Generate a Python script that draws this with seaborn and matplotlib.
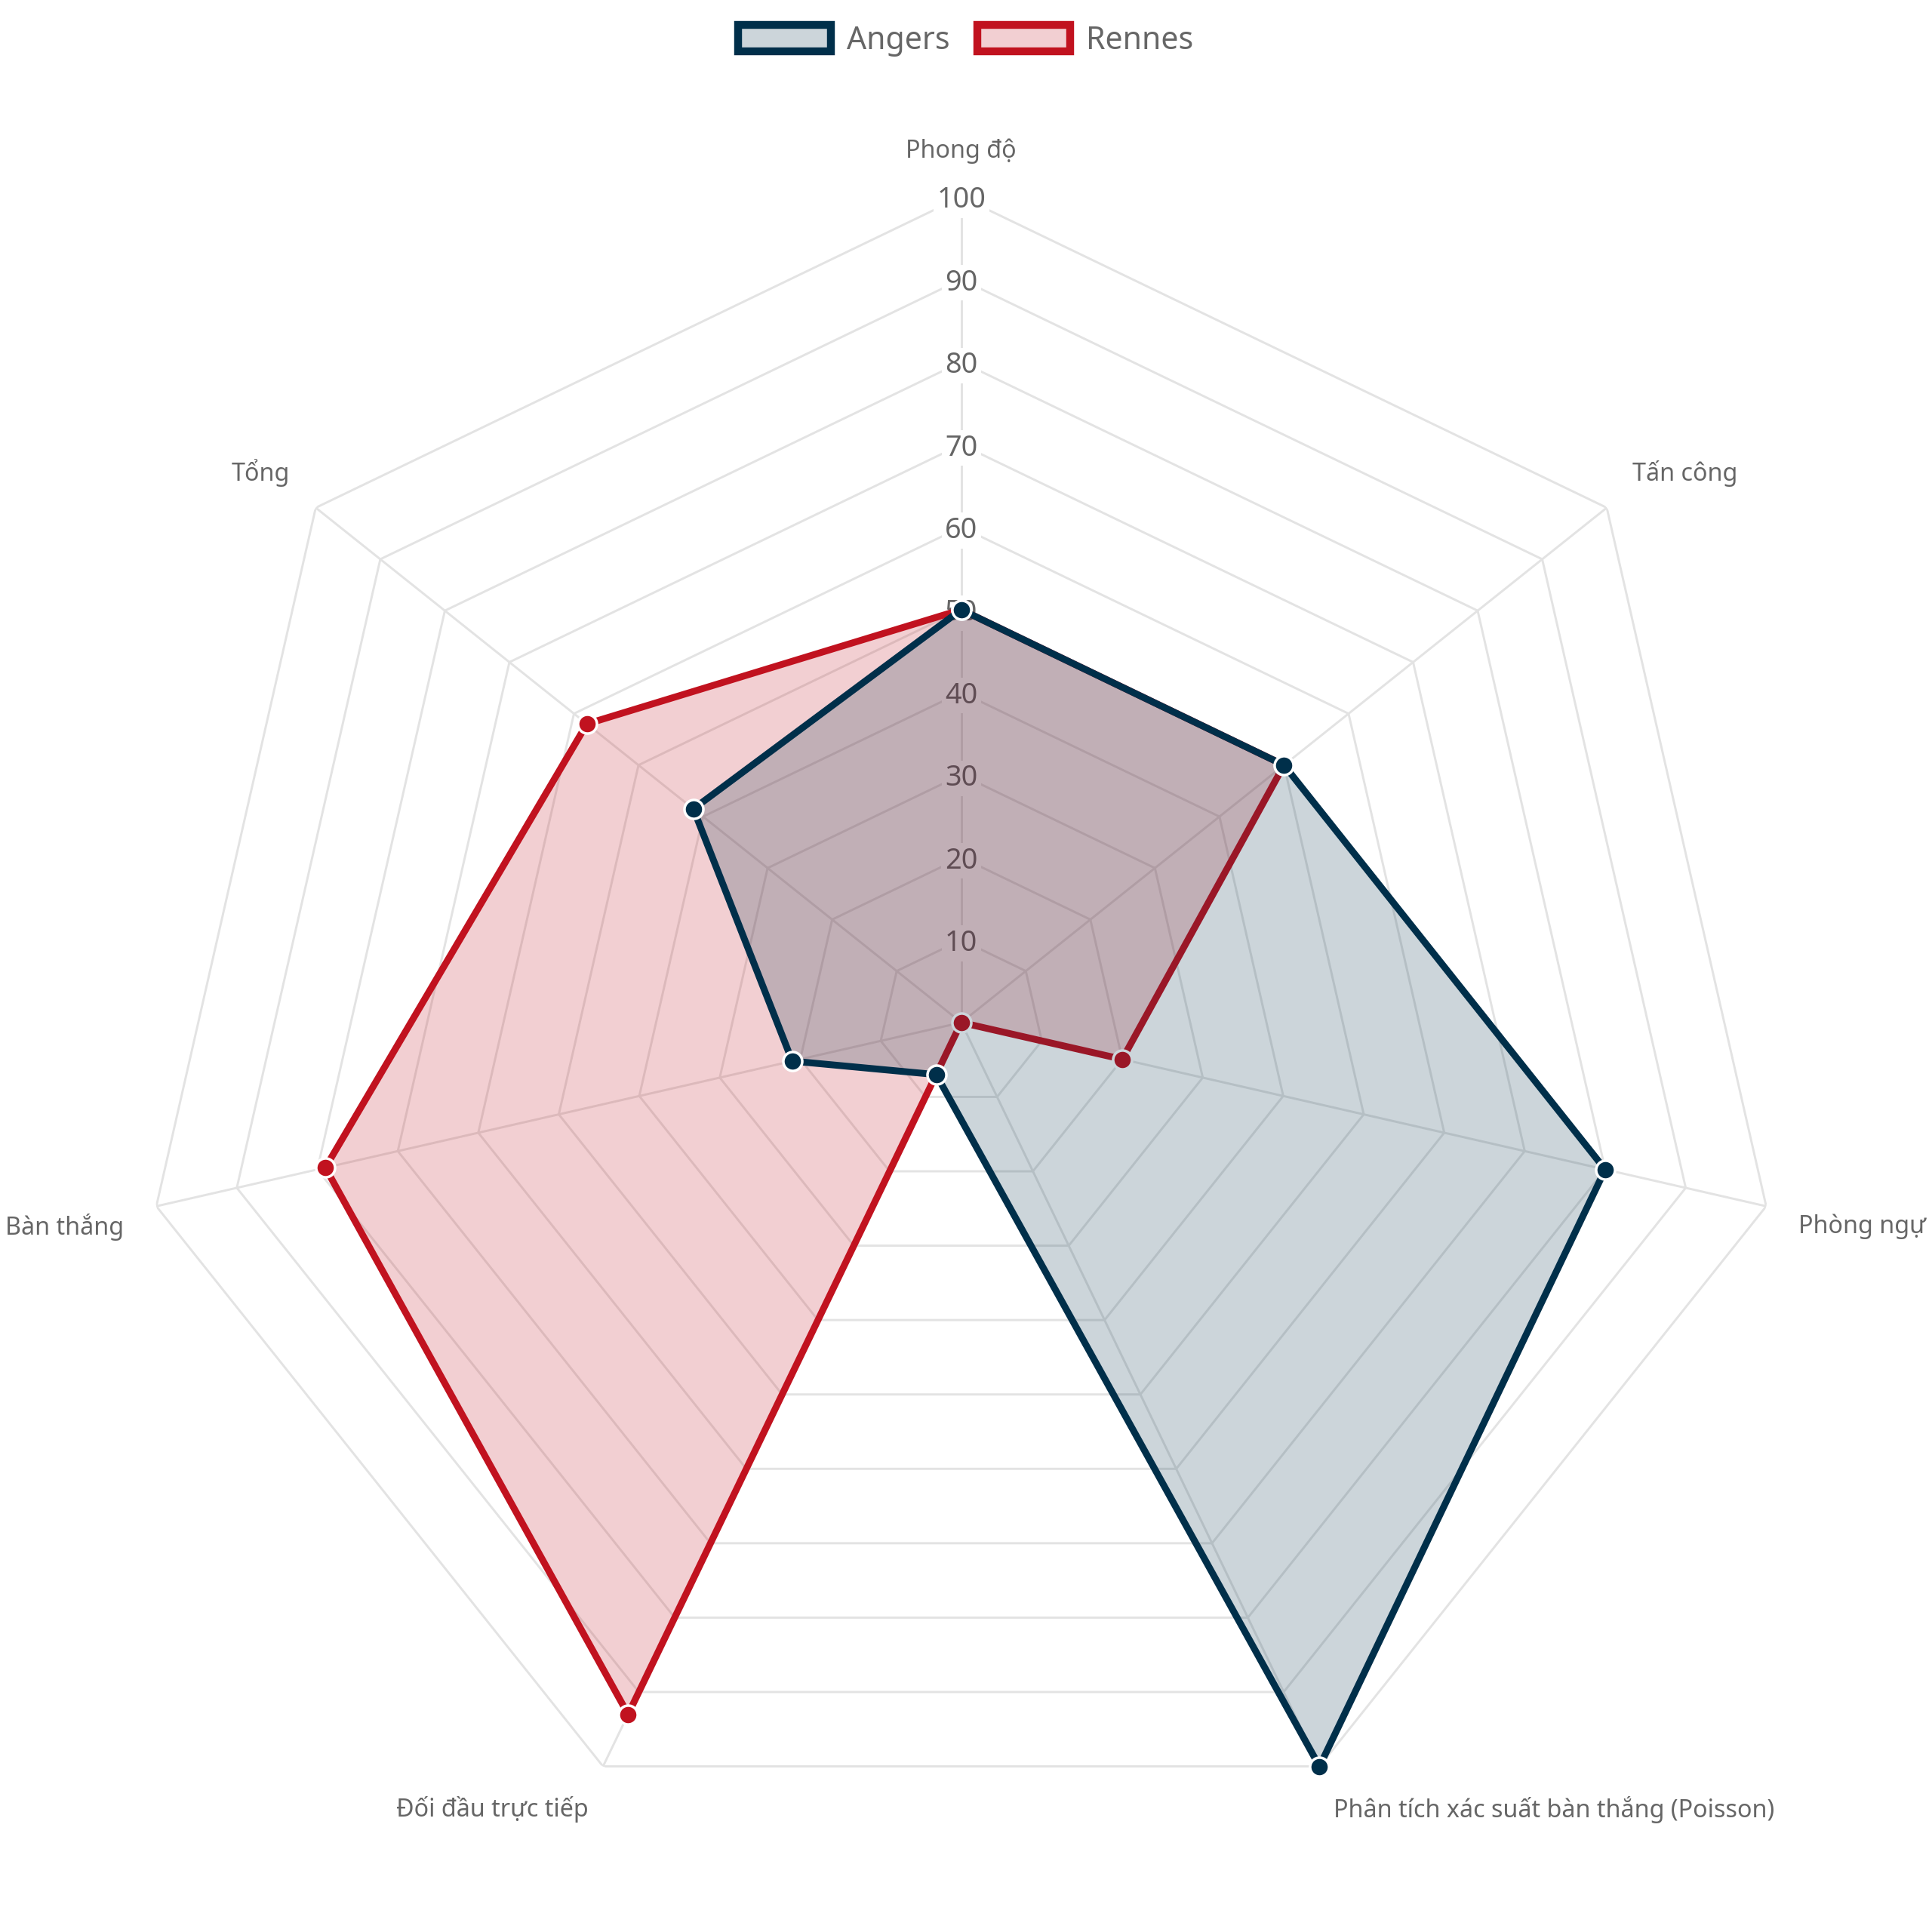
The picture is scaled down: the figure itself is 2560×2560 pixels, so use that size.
import numpy as np
import matplotlib
matplotlib.use("Agg")
import matplotlib.pyplot as plt
from matplotlib.patches import Patch
import seaborn as sns

# ---- data ----
categories = ["Phong độ", "Tấn công", "Phòng ngự",
              "Phân tích xác suất bàn thắng (Poisson)",
              "Đối đầu trực tiếp", "Bàn thắng", "Tổng"]
angers = [50, 50, 80, 100, 7, 21, 41.5]
rennes = [50, 50, 20, 0, 93, 79, 58]
series_names = ["Angers", "Rennes"]
tick_values = [10, 20, 30, 40, 50, 60, 70, 80, 90, 100]

# ---- style ----
sns.set_theme(style="white")
plt.rcParams["font.family"] = ["Noto Sans", "DejaVu Sans"]
TEXT = "#666666"
GRID = "#e3e3e3"
C_ANG = "#002F4A"
C_REN = "#C1121F"

fig = plt.figure(figsize=(10.24, 10.24), dpi=250, facecolor="white")
ax = fig.add_axes([0.0702, 0.0434, 0.8547, 0.8547], projection="polar")
ax.set_theta_offset(np.pi / 2)
ax.set_theta_direction(-1)
ax.set_ylim(0, 100)
ax.grid(False)
ax.set_xticks([])
ax.set_yticks([])
ax.spines["polar"].set_visible(False)
ax.patch.set_alpha(0)

n = len(categories)
theta = np.arange(n) * 2 * np.pi / n
theta_c = np.append(theta, theta[0])

# grid: heptagon rings + spokes
for v in tick_values:
    ax.plot(theta_c, [v] * (n + 1), color=GRID, lw=0.85, zorder=1, solid_joinstyle="miter")
for t in theta:
    ax.plot([t, t], [0, 100], color=GRID, lw=0.85, zorder=1)

# tick labels with backdrop
for v in tick_values:
    ax.text(0, v, str(v), ha="center", va="center_baseline", fontsize=10.9, color=TEXT,
            zorder=1.5, bbox=dict(boxstyle="square,pad=0.12", fc="white", ec="none"))

# point labels
def align_for(deg):
    if abs(deg) < 1e-6 or abs(deg - 180) < 1e-6:
        ha = "center"
    elif deg < 180:
        ha = "left"
    else:
        ha = "right"
    if 90 < deg < 270:
        va = "top"
    else:
        va = "bottom"
    return ha, va

for t, lab in zip(theta, categories):
    deg = np.degrees(t)
    ha, va = align_for(deg)
    ax.text(t, 104, lab, ha=ha, va=va, fontsize=9.3, color=TEXT, clip_on=False, zorder=6)

# series (Rennes first so Angers sits on top)
def draw(vals, color, z):
    vals_c = np.append(vals, vals[0])
    ax.fill(theta_c, vals_c, color=color, alpha=0.2, lw=0, zorder=z)
    sns.lineplot(x=theta_c, y=vals_c, sort=False, ax=ax, color=color, lw=2.6,
                 legend=False, zorder=z + 0.1, estimator=None)
    sns.scatterplot(x=theta, y=vals, ax=ax, color=color, s=52, edgecolor="white",
                    linewidth=1.0, legend=False, zorder=z + 0.2, clip_on=False)

draw(rennes, C_REN, 2)
draw(angers, C_ANG, 4)
ax.set_xlabel("")
ax.set_ylabel("")
ax.set_xticks([])
ax.set_yticks([])
ax.set_ylim(0, 100)

# legend
handles = [Patch(facecolor=matplotlib.colors.to_rgba(C_ANG, 0.2), edgecolor=C_ANG, lw=3.0),
           Patch(facecolor=matplotlib.colors.to_rgba(C_REN, 0.2), edgecolor=C_REN, lw=3.0)]
fig.legend(handles, series_names, loc="center", bbox_to_anchor=(0.4998, 0.979), ncol=2,
           frameon=False, fontsize=11.8, labelcolor=TEXT, handlelength=3.0, handleheight=0.95,
           handletextpad=0.5, columnspacing=0.9)

fig.savefig("out.png", dpi=250, facecolor="white")
